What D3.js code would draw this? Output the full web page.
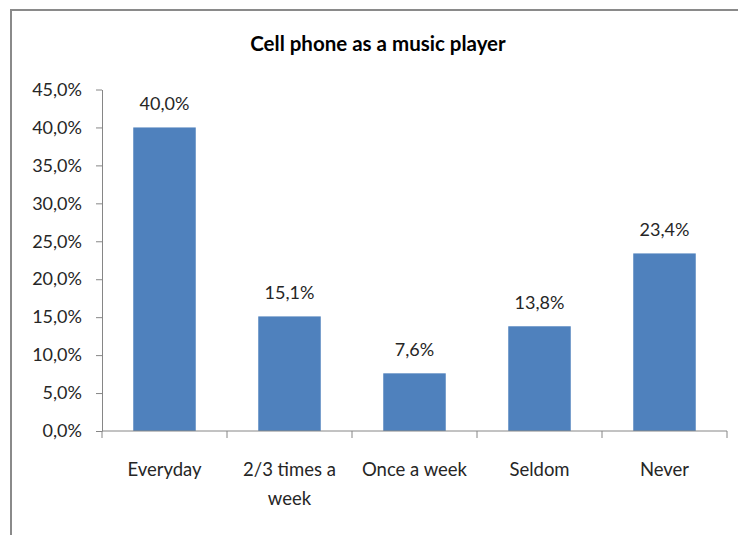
<!DOCTYPE html>
<html>
<head>
<meta charset="utf-8">
<script src="https://cdn.jsdelivr.net/npm/d3@7"></script>
<style>
  html, body { margin: 0; padding: 0; background: #fff; }
  svg { display: block; }
  text { font-family: Lato, "Open Sans", sans-serif; fill: #262626; }
</style>
</head>
<body>
<svg id="chart" width="738" height="535"></svg>
<script>
// Survey answers: how often the cell phone is used as a music player
const categories = ["Everyday", "2/3 times a week", "Once a week", "Seldom", "Never"];
const shares = [40.0, 15.1, 7.6, 13.8, 23.4];
const yTicks = [0, 5, 10, 15, 20, 25, 30, 35, 40, 45];
const title = "Cell phone as a music player";

const svg = d3.select("#chart");
const W = 738, H = 535;
const plot = { left: 102, right: 727, top: 89.5, bottom: 431 };

const fmt = v => d3.format(".1f")(v).replace(".", ",") + "%";

// outer frame (top and left edges)
svg.append("path")
  .attr("d", `M11,${H} L11,10 L${W},10`)
  .attr("fill", "none")
  .attr("stroke", "#8a8a8a")
  .attr("stroke-width", 2);

svg.append("text")
  .attr("x", 378).attr("y", 51)
  .attr("text-anchor", "middle")
  .attr("font-size", 20.5)
  .attr("font-weight", "bold")
  .style("fill", "#000")
  .text(title);

const x = d3.scaleBand()
  .domain(categories)
  .range([plot.left, plot.right])
  .paddingInner(0.5)
  .paddingOuter(0.25);

const y = d3.scaleLinear()
  .domain([0, 45])
  .range([plot.bottom, plot.top]);

// y axis
const yAxis = svg.append("g")
  .attr("transform", `translate(${plot.left},0)`)
  .call(d3.axisLeft(y).tickValues(yTicks).tickFormat(fmt).tickSize(6).tickSizeOuter(0).tickPadding(14));
yAxis.select(".domain").attr("stroke", "#868686");
yAxis.selectAll(".tick line").attr("stroke", "#868686");
yAxis.selectAll(".tick text").attr("font-size", 18).attr("font-family", "Lato, sans-serif").style("fill", "#262626");

// bars
svg.append("g").selectAll("rect")
  .data(categories)
  .join("rect")
  .attr("x", d => x(d))
  .attr("width", x.bandwidth())
  .attr("y", (d, i) => y(shares[i]))
  .attr("height", (d, i) => y(0) - y(shares[i]))
  .attr("fill", "#4F81BD");

// value labels
svg.append("g").selectAll("text")
  .data(categories)
  .join("text")
  .attr("x", d => x(d) + x.bandwidth() / 2)
  .attr("y", (d, i) => y(shares[i]) - 17)
  .attr("text-anchor", "middle")
  .attr("font-size", 18)
  .text((d, i) => fmt(shares[i]));

// x axis baseline and category separators
const step = x.step();
const xg = svg.append("g");
xg.append("line")
  .attr("x1", plot.left).attr("x2", plot.right)
  .attr("y1", y(0)).attr("y2", y(0))
  .attr("stroke", "#868686");
xg.selectAll("line.sep")
  .data(d3.range(categories.length + 1))
  .join("line")
  .attr("class", "sep")
  .attr("x1", i => plot.left + i * step).attr("x2", i => plot.left + i * step)
  .attr("y1", y(0)).attr("y2", y(0) + 7)
  .attr("stroke", "#868686");

// category labels, wrapped to the band width
const lines = {
  "Everyday": ["Everyday"],
  "2/3 times a week": ["2/3 times a", "week"],
  "Once a week": ["Once a week"],
  "Seldom": ["Seldom"],
  "Never": ["Never"]
};
xg.selectAll("text.cat")
  .data(categories)
  .join("text")
  .attr("class", "cat")
  .attr("text-anchor", "middle")
  .attr("font-size", 18.5)
  .each(function (d) {
    const t = d3.select(this);
    lines[d].forEach((ln, k) => {
      t.append("tspan")
        .attr("x", x(d) + x.bandwidth() / 2)
        .attr("y", 476 + k * 29)
        .text(ln);
    });
  });
</script>
</body>
</html>
